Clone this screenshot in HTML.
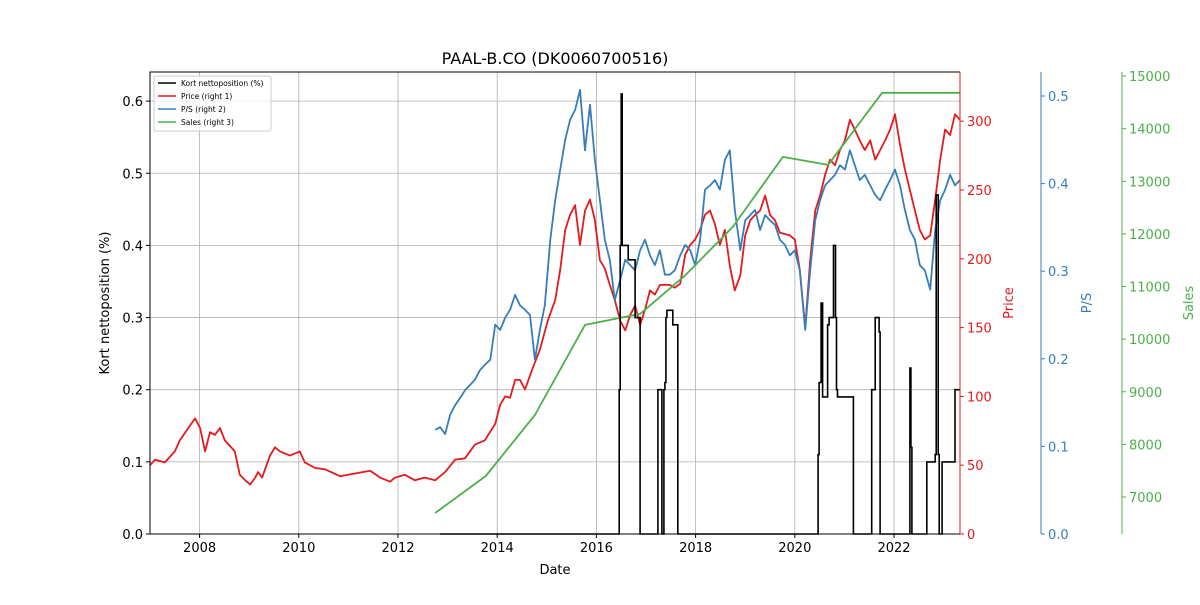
<!DOCTYPE html>
<html><head><meta charset="utf-8"><style>
body{margin:0;background:#fff;}
svg text{font-family:"DejaVu Sans","Liberation Sans",sans-serif;}
</style></head><body>
<svg id="chart" width="1200" height="600" xmlns="http://www.w3.org/2000/svg">
<rect width="1200" height="600" fill="#fff"/>
<g id="grid"></g>
<g id="series"></g>
<g id="axes"></g>
<text x="555" y="64" font-size="16" text-anchor="middle">PAAL-B.CO (DK0060700516)</text>
<text x="555" y="574" font-size="13" text-anchor="middle">Date</text>
<text transform="translate(109,303) rotate(-90)" font-size="13" text-anchor="middle">Kort nettoposition (%)</text>
<text transform="translate(1013,303) rotate(-90)" font-size="13" fill="#e41a1c" text-anchor="middle">Price</text>
<text transform="translate(1091,303) rotate(-90)" font-size="13" fill="#377eb8" text-anchor="middle">P/S</text>
<text transform="translate(1193,303) rotate(-90)" font-size="13" fill="#4daf4a" text-anchor="middle">Sales</text>
<g>
<rect x="154" y="76" width="117" height="55" fill="#fff" fill-opacity="0.8" stroke="#ccc" rx="2"/>
<line x1="158" y1="83" x2="176" y2="83" stroke="#000" stroke-width="1.5"/><text x="181" y="86" font-size="7.5">Kort nettoposition (%)</text>
<line x1="158" y1="96" x2="176" y2="96" stroke="#e41a1c" stroke-width="1.5"/><text x="181" y="99" font-size="7.5">Price (right 1)</text>
<line x1="158" y1="109" x2="176" y2="109" stroke="#377eb8" stroke-width="1.5"/><text x="181" y="112" font-size="7.5">P/S (right 2)</text>
<line x1="158" y1="122" x2="176" y2="122" stroke="#4daf4a" stroke-width="1.5"/><text x="181" y="125" font-size="7.5">Sales (right 3)</text>
</g>
</svg>
<script>
const xTicks=[2008,2010,2012,2014,2016,2018,2020,2022];
const leftTicks=[0,0.1,0.2,0.3,0.4,0.5,0.6];
const priceTicks=[0,50,100,150,200,250,300];
const psTicks=[0,0.1,0.2,0.3,0.4,0.5];
const salesTicks=[7000,8000,9000,10000,11000,12000,13000,14000,15000];
const priceDates=[2007.00,2007.10,2007.30,2007.50,2007.60,2007.81,2007.91,2008.01,2008.11,2008.21,2008.31,2008.41,2008.51,2008.71,2008.81,2008.92,2009.02,2009.12,2009.18,2009.26,2009.42,2009.52,2009.62,2009.82,2010.02,2010.12,2010.33,2010.53,2010.83,2011.13,2011.44,2011.64,2011.84,2011.94,2012.14,2012.34,2012.54,2012.75,2012.95,2013.15,2013.35,2013.55,2013.75,2013.96,2014.06,2014.16,2014.26,2014.36,2014.46,2014.56,2014.70,2014.86,2015.02,2015.17,2015.27,2015.37,2015.47,2015.57,2015.67,2015.77,2015.87,2015.97,2016.07,2016.17,2016.27,2016.37,2016.48,2016.58,2016.68,2016.78,2016.88,2016.98,2017.08,2017.18,2017.28,2017.48,2017.58,2017.69,2017.79,2017.89,2017.99,2018.09,2018.19,2018.29,2018.39,2018.49,2018.59,2018.69,2018.79,2018.90,2019.00,2019.10,2019.20,2019.30,2019.40,2019.50,2019.60,2019.70,2019.90,2020.00,2020.10,2020.21,2020.31,2020.41,2020.51,2020.61,2020.71,2020.81,2020.91,2021.01,2021.11,2021.21,2021.31,2021.41,2021.52,2021.62,2021.72,2021.82,2021.92,2022.02,2022.12,2022.22,2022.32,2022.42,2022.52,2022.62,2022.73,2022.83,2022.93,2023.03,2023.13,2023.23,2023.33];
const priceValues=[50,54,52,60,68,79,84,77,60,74,72,77,68,60,43,39,36,41,45,41,57,63,60,57,60,52,48,47,42,44,46,41,38,41,43,39,41,39,45,54,55,65,68,80,94,100,99,112,112,105,119,134,155,170,192,221,232,239,210,235,243,228,199,193,181,170,155,148,159,166,152,163,177,174,181,181,179,182,203,210,214,221,232,235,225,210,221,195,177,188,217,228,232,235,246,232,228,219,217,214,192,150,199,235,246,261,272,268,279,286,301,294,286,279,286,272,279,286,294,305,283,265,250,235,221,214,217,243,272,294,290,305,301];
const psDates=[2012.75,2012.85,2012.95,2013.05,2013.15,2013.25,2013.35,2013.45,2013.55,2013.65,2013.75,2013.86,2013.96,2014.06,2014.16,2014.26,2014.36,2014.46,2014.56,2014.66,2014.76,2014.86,2014.96,2015.07,2015.17,2015.27,2015.37,2015.47,2015.57,2015.67,2015.77,2015.87,2015.97,2016.07,2016.17,2016.27,2016.37,2016.48,2016.58,2016.68,2016.78,2016.88,2016.98,2017.08,2017.18,2017.28,2017.38,2017.48,2017.58,2017.69,2017.79,2017.89,2017.99,2018.09,2018.19,2018.29,2018.39,2018.49,2018.59,2018.69,2018.79,2018.90,2019.00,2019.10,2019.20,2019.30,2019.40,2019.50,2019.60,2019.70,2019.80,2019.90,2020.00,2020.10,2020.21,2020.31,2020.41,2020.51,2020.61,2020.71,2020.81,2020.91,2021.01,2021.11,2021.21,2021.31,2021.41,2021.52,2021.62,2021.72,2021.82,2021.92,2022.02,2022.12,2022.22,2022.32,2022.42,2022.52,2022.62,2022.73,2022.83,2022.93,2023.03,2023.13,2023.23,2023.33];
const psValues=[0.119,0.122,0.114,0.136,0.147,0.155,0.164,0.170,0.176,0.187,0.193,0.199,0.239,0.233,0.247,0.256,0.273,0.261,0.256,0.250,0.199,0.233,0.261,0.336,0.381,0.416,0.450,0.473,0.484,0.507,0.438,0.490,0.427,0.381,0.336,0.313,0.267,0.290,0.313,0.307,0.301,0.324,0.336,0.318,0.307,0.324,0.296,0.296,0.301,0.318,0.330,0.324,0.307,0.336,0.393,0.398,0.404,0.393,0.427,0.438,0.370,0.324,0.358,0.364,0.370,0.347,0.364,0.358,0.353,0.336,0.330,0.318,0.324,0.301,0.233,0.301,0.358,0.381,0.398,0.404,0.410,0.421,0.416,0.438,0.421,0.404,0.410,0.398,0.387,0.381,0.393,0.404,0.416,0.398,0.370,0.347,0.336,0.307,0.301,0.279,0.347,0.381,0.393,0.410,0.398,0.404];
const salesDates=[2012.75,2013.77,2014.76,2015.77,2016.88,2017.80,2018.75,2019.76,2020.67,2021.76,2023.33];
const salesValues=[6696,7399,8559,10270,10479,11220,12133,13464,13312,14681,14681];
const shortDates=[2012.85,2016.46,2016.48,2016.50,2016.52,2016.55,2016.64,2016.78,2016.88,2017.24,2017.32,2017.36,2017.38,2017.40,2017.42,2017.54,2017.64,2020.47,2020.49,2020.53,2020.56,2020.66,2020.69,2020.78,2020.82,2020.84,2020.86,2020.90,2021.18,2021.55,2021.62,2021.70,2021.72,2022.32,2022.34,2022.36,2022.66,2022.83,2022.85,2022.89,2022.91,2022.97,2023.23,2023.33];
const shortValues=[0,0.2,0.4,0.61,0.4,0.4,0.38,0.3,0,0.2,0,0.2,0.21,0.3,0.31,0.29,0,0.11,0.21,0.32,0.19,0.29,0.3,0.4,0.3,0.2,0.19,0.19,0,0.2,0.3,0.28,0,0.23,0.12,0,0.1,0.11,0.47,0.11,0,0.1,0.2,0.2];

const L=150,R=960,T=72,B=534;
const X=t=>L+(t-2007)*(R-L)/(2023.33-2007);
const YL=v=>B-v*721.5;
const YP=v=>B-v*1.376;
const YS=v=>B-v*876;
const YSa=v=>497-(v-7000)*0.05262;
const NS='http://www.w3.org/2000/svg';
function mk(parent,tag,attrs){const e=document.createElementNS(NS,tag);for(const k in attrs)e.setAttribute(k,attrs[k]);parent.appendChild(e);return e;}
const grid=document.getElementById('grid'),series=document.getElementById('series'),axes=document.getElementById('axes');
const fmt1=v=>v.toFixed(1);
xTicks.forEach(t=>{
  const gl=mk(grid,'line',{x1:X(t),x2:X(t),y1:T,y2:B,stroke:'#b0b0b0','stroke-width':0.8});
  
  const tk=mk(axes,'line',{x1:X(t),x2:X(t),y1:B,y2:B+4,stroke:'#000'});
  
  const tx=mk(axes,'text',{x:X(t),y:B+18,'font-size':13,'text-anchor':'middle'});tx.textContent=t;
  
});
leftTicks.forEach(v=>{
  const gl=mk(grid,'line',{x1:L,x2:R,y1:YL(v),y2:YL(v),stroke:'#b0b0b0','stroke-width':0.8});
  
  mk(axes,'line',{x1:L-4,x2:L,y1:YL(v),y2:YL(v),stroke:'#000'});
  const tx=mk(axes,'text',{x:L-7,y:YL(v)+5,'font-size':13,'text-anchor':'end'});tx.textContent=fmt1(v);
  
});
function rightAxis(xp,ticks,sc,col,f,name){
  const sp=mk(axes,'line',{x1:xp,x2:xp,y1:T,y2:B,stroke:col,'stroke-width':1});
  
  ticks.forEach(v=>{mk(axes,'line',{x1:xp,x2:xp+4,y1:sc(v),y2:sc(v),stroke:col});
    const tx=mk(axes,'text',{x:xp+7,y:sc(v)+5,'font-size':13,fill:col});tx.textContent=f(v);
    });
}
function line(ds,vs,sc,col,name,w){
  const d=ds.map((t,i)=>(i?'L':'M')+X(t).toFixed(1)+','+sc(vs[i]).toFixed(1)).join('');
  const p=mk(series,'path',{d:d,fill:'none',stroke:col,'stroke-width':w,'stroke-linejoin':'round'});
  
}
line(priceDates,priceValues,YP,'#e41a1c','price-line',1.8);
line(psDates,psValues,YS,'#377eb8','ps-line',1.8);
line(salesDates,salesValues,YSa,'#4daf4a','sales-line',1.8);
(function(){let d='';shortDates.forEach((t,i)=>{const x=X(t).toFixed(1),y=YL(shortValues[i]).toFixed(1);
  if(i===0)d+='M'+x+','+y;else d+='H'+x+'V'+y;});
  const p=mk(series,'path',{d:d,fill:'none',stroke:'#000','stroke-width':1.6});
  })();
const fr=mk(axes,'path',{d:`M${L},${B}V${T}H${R}`,fill:'none',stroke:'#000','stroke-width':1});

const bl=mk(axes,'line',{x1:L,x2:R,y1:B,y2:B,stroke:'#000'});

rightAxis(960,priceTicks,YP,'#e41a1c',v=>v,'price-axis');
rightAxis(1041,psTicks,YS,'#377eb8',fmt1,'ps-axis');
rightAxis(1122,salesTicks,YSa,'#4daf4a',v=>v,'sales-axis');
</script>
</body></html>
